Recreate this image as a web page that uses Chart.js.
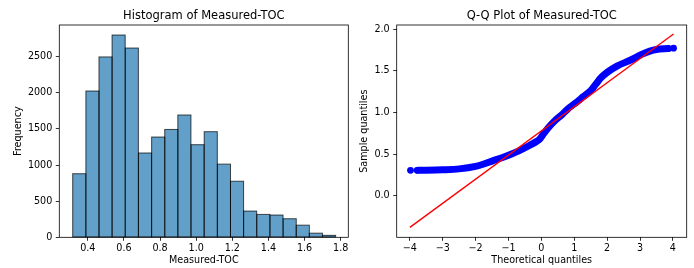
<!DOCTYPE html>
<html><head><meta charset="utf-8">
<script src="https://cdn.jsdelivr.net/npm/chart.js@4"></script>
<style>
html,body{margin:0;padding:0;background:#fff;}
#wrap{position:relative;width:694px;height:268px;overflow:hidden;background:#fff;}
canvas{position:absolute;left:0;top:0;}
</style></head><body>
<div id="wrap">
<canvas id="hist" width="694" height="268"></canvas>
<canvas id="qq" width="694" height="268"></canvas>
</div>
<script>
// ---- Histogram data ----
const histBinEdges = [0.316, 0.389, 0.462, 0.534, 0.607, 0.680, 0.753, 0.826, 0.898, 0.971, 1.044,
                      1.117, 1.190, 1.262, 1.335, 1.408, 1.481, 1.554, 1.626, 1.699, 1.772];
const histCounts = [880, 2025, 2497, 2800, 2620, 1167, 1388, 1493, 1693, 1282,
                    1462, 1013, 776, 363, 317, 308, 257, 168, 57, 27];
const histTicksX = [0.4, 0.6, 0.8, 1.0, 1.2, 1.4, 1.6, 1.8];
const histTicksY = [0, 500, 1000, 1500, 2000, 2500];

// ---- Q-Q plot data ----
const qqBandX = [-3.75, -3.5, -3.0, -2.5, -2.0, -1.75, -1.5, -1.2, -1.0, -0.7, -0.35, -0.15, -0.05,
                 0.08, 0.23, 0.41, 0.62, 0.8, 1.05, 1.28, 1.5, 1.65, 1.8, 2.0, 2.3, 2.7, 3.05, 3.3, 3.5, 3.85];
const qqBandY = [0.305, 0.306, 0.311, 0.322, 0.352, 0.38, 0.415, 0.455, 0.485, 0.535, 0.605, 0.65, 0.68,
                 0.75, 0.825, 0.9, 0.97, 1.04, 1.115, 1.19, 1.26, 1.335, 1.41, 1.48, 1.555, 1.625, 1.695, 1.735, 1.755, 1.765];
const qqEndX = [-3.98, -3.78, 3.87, 4.02];
const qqEndY = [0.305, 0.305, 1.765, 1.77];
const fitLineX = [-4.0, 4.02];
const fitLineY = [-0.38, 1.94];
const qqTicksX = [-4, -3, -2, -1, 0, 1, 2, 3, 4];
const qqTicksY = [0.0, 0.5, 1.0, 1.5, 2.0];

const FAMILY = "'DejaVu Sans', sans-serif";
Chart.defaults.font.family = FAMILY;
Chart.defaults.color = '#000';

const framePlugin = {
  id: 'frame',
  afterDatasetsDraw(chart) {
    const {ctx, chartArea: a} = chart;
    ctx.save();
    ctx.strokeStyle = '#000';
    ctx.lineWidth = 0.8;
    ctx.strokeRect(a.left, a.top, a.right - a.left, a.bottom - a.top);
    ctx.restore();
  }
};

// Draws matplotlib-style bar edges (stroked on the bar outline) from the library's bar elements
const barEdgePlugin = {
  id: 'barEdges',
  afterDatasetDraw(chart, args) {
    const meta = args.meta;
    if (meta.type !== 'bar') return;
    const ctx = chart.ctx;
    ctx.save();
    ctx.strokeStyle = 'rgba(0,0,0,0.7)';
    ctx.lineWidth = 1;
    meta.data.forEach(bar => {
      const p = bar.getProps(['x', 'y', 'base', 'width'], true);
      ctx.strokeRect(p.x - p.width / 2, p.y, p.width, p.base - p.y);
    });
    ctx.restore();
  }
};

function gridOpts() {
  return {display: true, drawOnChartArea: false, drawTicks: true, tickLength: 3.5,
          color: '#000', lineWidth: 0.8, offset: false};
}
const tickFont = {family: FAMILY, size: 9.6};
const labelFont = {family: FAMILY, size: 9.6};
const titleFont = {family: FAMILY, size: 11.5, weight: 'normal'};

// ---- Histogram chart ----
new Chart(document.getElementById('hist'), {
  type: 'bar',
  data: {
    datasets: [{
      data: histCounts.map((c, i) => ({x: (histBinEdges[i] + histBinEdges[i + 1]) / 2, y: c})),
      backgroundColor: '#62a0ca',
      borderWidth: 0,
      barPercentage: 1,
      categoryPercentage: 1,
      inflateAmount: 0
    }]
  },
  options: {
    responsive: false, animation: false, devicePixelRatio: 1,
    layout: {padding: {left: 0, right: 345.7, top: 0, bottom: 0}},
    plugins: {
      legend: {display: false}, tooltip: {enabled: false},
      title: {display: true, text: 'Histogram of Measured-TOC', fullSize: false,
              font: titleFont, color: '#000', padding: {top: 9.2, bottom: 2.0}}
    },
    scales: {
      x: {
        type: 'linear', min: 0.242, max: 1.842, offset: false,
        grid: gridOpts(), border: {display: false},
        ticks: {font: tickFont, color: '#000', padding: 1.9, autoSkip: false, maxRotation: 0,
                callback: v => Number(v).toFixed(1)},
        afterBuildTicks: s => { s.ticks = histTicksX.map(v => ({value: v})); },
        afterFit: s => { s.height = 30.7; },
        title: {display: true, text: 'Measured-TOC', font: labelFont, color: '#000', padding: {top: 0, bottom: 1.4}}
      },
      y: {
        type: 'linear', min: 0, max: 2939,
        grid: gridOpts(), border: {display: false},
        ticks: {font: tickFont, color: '#000', padding: 3.5, autoSkip: false,
                callback: v => String(v)},
        afterBuildTicks: s => { s.ticks = histTicksY.map(v => ({value: v})); },
        afterFit: s => { s.width = 59.3; },
        title: {display: true, text: 'Frequency', font: labelFont, color: '#000', padding: {top: 12.4, bottom: 0}}
      }
    }
  },
  plugins: [barEdgePlugin, framePlugin]
});

// ---- Q-Q chart ----
new Chart(document.getElementById('qq'), {
  type: 'scatter',
  data: {
    datasets: [
      {
        data: fitLineX.map((x, i) => ({x: x, y: fitLineY[i]})),
        showLine: true, borderColor: '#ff0000', borderWidth: 1.4, pointRadius: 0, order: 0
      },
      {
        data: qqBandX.map((x, i) => ({x: x, y: qqBandY[i]})),
        showLine: true, borderColor: '#0000ff', borderWidth: 7, pointRadius: 0,
        cubicInterpolationMode: 'monotone', borderCapStyle: 'round', borderJoinStyle: 'round', order: 1
      },
      {
        data: qqEndX.map((x, i) => ({x: x, y: qqEndY[i]})),
        showLine: false, pointRadius: 3.4, pointBackgroundColor: '#0000ff',
        pointBorderColor: '#0000ff', pointBorderWidth: 0, order: 1
      }
    ]
  },
  options: {
    responsive: false, animation: false, devicePixelRatio: 1,
    layout: {padding: {left: 350, right: 7.3, top: 0, bottom: 0}},
    plugins: {
      legend: {display: false}, tooltip: {enabled: false},
      title: {display: true, text: 'Q-Q Plot of Measured-TOC', fullSize: false,
              font: titleFont, color: '#000', padding: {top: 9.2, bottom: 2.0}}
    },
    scales: {
      x: {
        type: 'linear', min: -4.40, max: 4.42,
        grid: gridOpts(), border: {display: false},
        ticks: {font: tickFont, color: '#000', padding: 1.9, autoSkip: false, maxRotation: 0,
                callback: v => (v < 0 ? '\u2212' + Math.abs(v) : String(v))},
        afterBuildTicks: s => { s.ticks = qqTicksX.map(v => ({value: v})); },
        afterFit: s => { s.height = 30.7; },
        title: {display: true, text: 'Theoretical quantiles', font: labelFont, color: '#000', padding: {top: 0, bottom: 1.4}}
      },
      y: {
        type: 'linear', min: -0.499, max: 2.048,
        grid: gridOpts(), border: {display: false},
        ticks: {font: tickFont, color: '#000', padding: 3.5, autoSkip: false,
                callback: v => Number(v).toFixed(1)},
        afterBuildTicks: s => { s.ticks = qqTicksY.map(v => ({value: v})); },
        afterFit: s => { s.width = 46.7; },
        title: {display: true, text: 'Sample quantiles', font: labelFont, color: '#000', padding: {top: 9.1, bottom: 0}}
      }
    }
  },
  plugins: [framePlugin]
});
</script>
</body></html>
